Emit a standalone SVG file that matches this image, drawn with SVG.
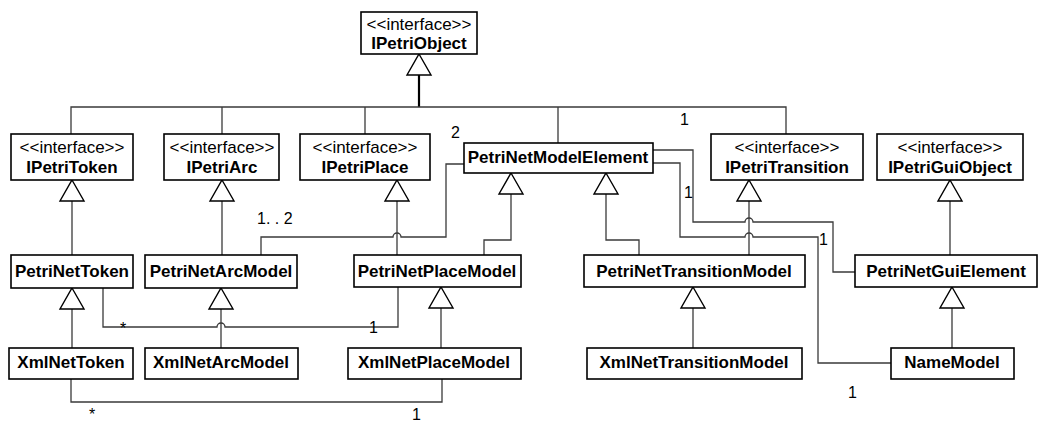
<svg xmlns="http://www.w3.org/2000/svg" xmlns:xlink="http://www.w3.org/1999/xlink" width="1039" height="421" viewBox="0 0 1039 421">
<style>
.box{fill:#fff;stroke:#000;stroke-width:1.6}
.st{font-family:"Liberation Sans",Arial,sans-serif;font-size:17px;text-anchor:middle;fill:#000}
.nm{font-family:"Liberation Sans",Arial,sans-serif;font-size:17px;font-weight:bold;text-anchor:middle;fill:#000}
.lb{font-family:"Liberation Sans",Arial,sans-serif;font-size:16px;fill:#000}
.ln{fill:none;stroke:#3a3a3a;stroke-width:1.3}
.tri{fill:#fff;stroke:#000;stroke-width:1.4}
</style>
<defs>
<path id="tri" class="tri" d="M0 0 L12 21 L-12 21 Z"/>
</defs>
<g id="connectors">
<path class="ln" d="M419 75 V107" style="stroke-width:2.2;stroke:#000"/>
<path class="ln" d="M71 134 V107 H786 V134"/>
<path class="ln" d="M222 107 V134"/>
<path class="ln" d="M365 107 V134"/>
<path class="ln" d="M558 107 V143"/>
<path class="ln" d="M72 201 V255"/>
<path class="ln" d="M222 201 V255"/>
<path class="ln" d="M397 201 V255"/>
<path class="ln" d="M511 194 V240 H484 V255"/>
<path class="ln" d="M606 194 V240 H639 V255"/>
<path class="ln" d="M749 201 V255"/>
<path class="ln" d="M950 201 V255"/>
<path class="ln" d="M72 309 V348"/>
<path class="ln" d="M221 309 V348"/>
<path class="ln" d="M441 308 V348"/>
<path class="ln" d="M693 308 V348"/>
<path class="ln" d="M952 308 V348"/>
<path class="ln" d="M464 164 H446 V237 H401 A4 4 0 0 0 393 237 H261 V255"/>
<path class="ln" d="M103 288 V327 H217 A4 4 0 0 1 225 327 H398 V287"/>
<path class="ln" d="M71 379 V402 H442 V379"/>
<path class="ln" d="M653 150 H693 V222 H745 A4 4 0 0 1 753 222 H833 V272 H855"/>
<path class="ln" d="M653 163 H680 V237 H745 A4 4 0 0 1 753 237 H818 V363 H891"/>
<use xlink:href="#tri" x="419" y="54"/>
<use xlink:href="#tri" x="72" y="180"/>
<use xlink:href="#tri" x="222" y="180"/>
<use xlink:href="#tri" x="397" y="180"/>
<use xlink:href="#tri" x="511" y="173"/>
<use xlink:href="#tri" x="606" y="173"/>
<use xlink:href="#tri" x="749" y="180"/>
<use xlink:href="#tri" x="950" y="180"/>
<use xlink:href="#tri" x="72" y="288"/>
<use xlink:href="#tri" x="221" y="288"/>
<use xlink:href="#tri" x="441" y="287"/>
<use xlink:href="#tri" x="693" y="287"/>
<use xlink:href="#tri" x="952" y="287"/>
<text class="lb" x="451" y="138">2</text>
<text class="lb" x="680" y="125">1</text>
<text class="lb" x="257" y="224">1. . 2</text>
<text class="lb" x="684" y="198">1</text>
<text class="lb" x="819" y="245">1</text>
<text class="lb" x="848" y="398">1</text>
<text class="lb" x="120" y="334">*</text>
<text class="lb" x="369" y="333">1</text>
<text class="lb" x="89" y="420">*</text>
<text class="lb" x="412" y="420">1</text>
</g>
<g id="IPetriObject"><rect class="box" x="361" y="12" width="116" height="42"/><text class="st" x="419" y="30">&lt;&lt;interface&gt;&gt;</text><text class="nm" x="419" y="49">IPetriObject</text></g>
<g id="IPetriToken"><rect class="box" x="11" y="134" width="122" height="46"/><text class="st" x="72" y="153">&lt;&lt;interface&gt;&gt;</text><text class="nm" x="72" y="173">IPetriToken</text></g>
<g id="IPetriArc"><rect class="box" x="164" y="134" width="115" height="46"/><text class="st" x="222" y="153">&lt;&lt;interface&gt;&gt;</text><text class="nm" x="222" y="173">IPetriArc</text></g>
<g id="IPetriPlace"><rect class="box" x="300" y="134" width="130" height="46"/><text class="st" x="365" y="153">&lt;&lt;interface&gt;&gt;</text><text class="nm" x="365" y="173">IPetriPlace</text></g>
<g id="PetriNetModelElement"><rect class="box" x="464" y="143" width="189" height="30"/><text class="nm" x="558" y="163">PetriNetModelElement</text></g>
<g id="IPetriTransition"><rect class="box" x="711" y="134" width="152" height="46"/><text class="st" x="787" y="153">&lt;&lt;interface&gt;&gt;</text><text class="nm" x="787" y="173">IPetriTransition</text></g>
<g id="IPetriGuiObject"><rect class="box" x="877" y="134" width="146" height="46"/><text class="st" x="950" y="153">&lt;&lt;interface&gt;&gt;</text><text class="nm" x="950" y="173">IPetriGuiObject</text></g>
<g id="PetriNetToken"><rect class="box" x="11" y="255" width="122" height="33"/><text class="nm" x="72" y="277">PetriNetToken</text></g>
<g id="PetriNetArcModel"><rect class="box" x="145" y="255" width="152" height="33"/><text class="nm" x="221" y="277">PetriNetArcModel</text></g>
<g id="PetriNetPlaceModel"><rect class="box" x="354" y="255" width="167" height="32"/><text class="nm" x="437" y="277">PetriNetPlaceModel</text></g>
<g id="PetriNetTransitionModel"><rect class="box" x="584" y="255" width="221" height="32"/><text class="nm" x="694" y="277">PetriNetTransitionModel</text></g>
<g id="PetriNetGuiElement"><rect class="box" x="855" y="255" width="182" height="32"/><text class="nm" x="946" y="277">PetriNetGuiElement</text></g>
<g id="XmlNetToken"><rect class="box" x="9" y="348" width="124" height="31"/><text class="nm" x="71" y="368">XmlNetToken</text></g>
<g id="XmlNetArcModel"><rect class="box" x="145" y="348" width="153" height="31"/><text class="nm" x="221" y="368">XmlNetArcModel</text></g>
<g id="XmlNetPlaceModel"><rect class="box" x="348" y="348" width="173" height="31"/><text class="nm" x="434" y="368">XmlNetPlaceModel</text></g>
<g id="XmlNetTransitionModel"><rect class="box" x="587" y="348" width="215" height="31"/><text class="nm" x="694" y="368">XmlNetTransitionModel</text></g>
<g id="NameModel"><rect class="box" x="891" y="348" width="123" height="31"/><text class="nm" x="952" y="368">NameModel</text></g>
</svg>
